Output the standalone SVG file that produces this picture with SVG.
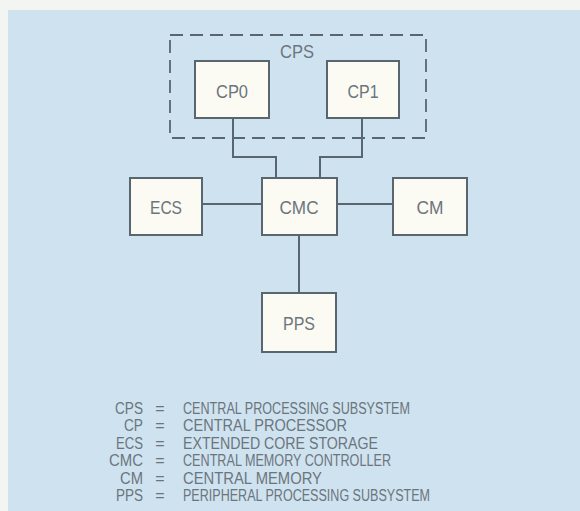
<svg xmlns="http://www.w3.org/2000/svg" width="580" height="511" viewBox="0 0 580 511">
  <style>
    .panel { fill: #cfe2ef; }
    .box { fill: #fbfaf3; stroke: #5a666f; stroke-width: 2; }
    .group { fill: none; stroke: #5a666f; stroke-width: 1.8; stroke-dasharray: 13 7; }
    .wire { fill: none; stroke: #5a666f; stroke-width: 2; }
    .lbl { font-family: "Liberation Sans", Arial, sans-serif; font-size: 19px; fill: #6b757d; text-anchor: middle; }
    .leg { font-family: "Liberation Sans", Arial, sans-serif; font-size: 16px; fill: #6b757d; }
  </style>

  <rect x="0" y="0" width="580" height="511" fill="#f3f5f3"/>
  <rect class="panel" x="8" y="10" width="572" height="501"/>

  <!-- central processing subsystem enclosure -->
  <g id="cps">
    <rect class="group" x="170" y="35" width="256" height="103"/>
    <text class="lbl" x="297" y="58" textLength="34" lengthAdjust="spacingAndGlyphs">CPS</text>
  </g>

  <!-- connectors -->
  <g id="connectors">
    <path class="wire" d="M233 118 V157 H276 V178"/>
    <path class="wire" d="M362 118 V157 H320 V178"/>
    <path class="wire" d="M202 204 H262"/>
    <path class="wire" d="M337 204 H393"/>
    <path class="wire" d="M299 235 V293"/>
  </g>

  <g id="cp0">
    <rect class="box" x="195" y="61" width="74" height="57"/>
    <text class="lbl" x="232" y="98" textLength="32" lengthAdjust="spacingAndGlyphs">CP0</text>
  </g>
  <g id="cp1">
    <rect class="box" x="327" y="61" width="72" height="57"/>
    <text class="lbl" x="363" y="98" textLength="31" lengthAdjust="spacingAndGlyphs">CP1</text>
  </g>
  <g id="ecs">
    <rect class="box" x="130" y="178" width="72" height="57"/>
    <text class="lbl" x="166" y="214" textLength="32" lengthAdjust="spacingAndGlyphs">ECS</text>
  </g>
  <g id="cmc">
    <rect class="box" x="262" y="178" width="75" height="57"/>
    <text class="lbl" x="299" y="214" textLength="39" lengthAdjust="spacingAndGlyphs">CMC</text>
  </g>
  <g id="cm">
    <rect class="box" x="393" y="178" width="74" height="57"/>
    <text class="lbl" x="430" y="214" textLength="27" lengthAdjust="spacingAndGlyphs">CM</text>
  </g>
  <g id="pps">
    <rect class="box" x="262" y="293" width="74" height="59"/>
    <text class="lbl" x="299" y="330" textLength="32" lengthAdjust="spacingAndGlyphs">PPS</text>
  </g>

  <!-- key -->
  <g id="legend" class="leg">
    <g text-anchor="end">
      <text x="143" y="414" textLength="28" lengthAdjust="spacingAndGlyphs">CPS</text>
      <text x="143" y="431" textLength="19" lengthAdjust="spacingAndGlyphs">CP</text>
      <text x="143" y="449" textLength="27" lengthAdjust="spacingAndGlyphs">ECS</text>
      <text x="143" y="466" textLength="34" lengthAdjust="spacingAndGlyphs">CMC</text>
      <text x="143" y="484" textLength="23" lengthAdjust="spacingAndGlyphs">CM</text>
      <text x="143" y="501" textLength="27" lengthAdjust="spacingAndGlyphs">PPS</text>
    </g>
    <g text-anchor="middle" font-size="16">
      <text x="160" y="414">=</text>
      <text x="160" y="431">=</text>
      <text x="160" y="449">=</text>
      <text x="160" y="466">=</text>
      <text x="160" y="484">=</text>
      <text x="160" y="501">=</text>
    </g>
    <text x="183" y="414" textLength="227" lengthAdjust="spacingAndGlyphs">CENTRAL PROCESSING SUBSYSTEM</text>
    <text x="183" y="431" textLength="164" lengthAdjust="spacingAndGlyphs">CENTRAL PROCESSOR</text>
    <text x="183" y="449" textLength="195" lengthAdjust="spacingAndGlyphs">EXTENDED CORE STORAGE</text>
    <text x="183" y="466" textLength="208" lengthAdjust="spacingAndGlyphs">CENTRAL MEMORY CONTROLLER</text>
    <text x="183" y="484" textLength="139" lengthAdjust="spacingAndGlyphs">CENTRAL MEMORY</text>
    <text x="183" y="501" textLength="247" lengthAdjust="spacingAndGlyphs">PERIPHERAL PROCESSING SUBSYSTEM</text>
  </g>
</svg>
